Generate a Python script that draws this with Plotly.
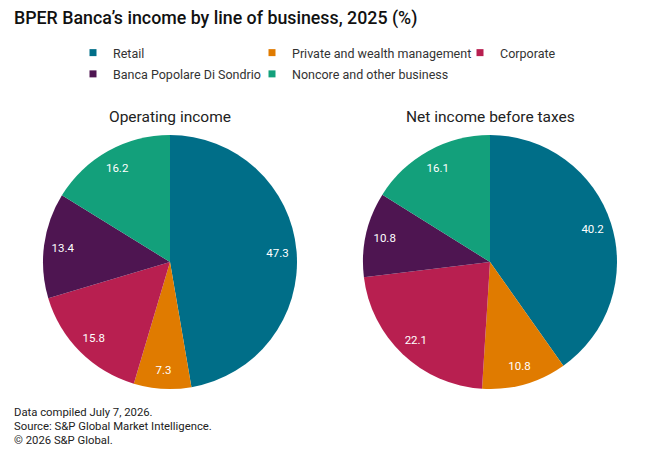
import plotly.graph_objects as go

categories = ["Retail", "Private and wealth management", "Corporate",
              "Banca Popolare Di Sondrio", "Noncore and other business"]
operating_income = [47.3, 7.3, 15.8, 13.4, 16.2]
net_income_before_taxes = [40.2, 10.8, 22.1, 10.8, 16.1]
colors = ["#006e88", "#e07b00", "#b81f50", "#4e1551", "#13a07b"]

title = "BPER Banca\u2019s income by line of business, 2025 (%)"
subtitles = ["Operating income", "Net income before taxes"]
footnotes = ["Data compiled July 7, 2026.",
             "Source: S&P Global Market Intelligence.",
             "\u00a9 2026 S&P Global."]

FONT = "Roboto"
W, H = 660, 458

# pie geometry (pixels)
R = 127
centers = [(170, 262), (490, 262)]


def dom(cx, cy):
    return dict(x=[(cx - R) / W, (cx + R) / W],
                y=[(H - cy - R) / H, (H - cy + R) / H])


fig = go.Figure()

for vals, (cx, cy) in zip([operating_income, net_income_before_taxes], centers):
    d = dom(cx, cy)
    fig.add_trace(go.Pie(
        labels=categories, values=vals, domain=d, sort=False,
        direction="clockwise", rotation=0, textinfo="none",
        marker=dict(colors=colors, line=dict(width=0)),
        showlegend=False, hoverinfo="label+value"))
    # label ring overlay (transparent) to place values near the rim
    fig.add_trace(go.Pie(
        labels=categories, values=vals, domain=d, sort=False,
        direction="clockwise", rotation=0, hole=0.7,
        text=[f"{v:.1f}" for v in vals], textinfo="text",
        textposition="inside", insidetextorientation="horizontal",
        textfont=dict(family=FONT, size=11.5, color="white"),
        marker=dict(colors=["rgba(0,0,0,0)"] * len(vals), line=dict(width=0)),
        showlegend=False, hoverinfo="skip"))

# legend entries (columns)
legend_of = ["legend", "legend2", "legend3", "legend", "legend2"]
for name, col, lg in zip(categories, colors, legend_of):
    fig.add_trace(go.Scatter(
        x=[None], y=[None], mode="markers", name=name, legend=lg,
        legendgroup=name,
        marker=dict(symbol="square", size=7, color=col),
        hoverinfo="skip"))

leg_common = dict(orientation="v", xanchor="left", yanchor="top",
                  font=dict(family=FONT, size=12.5, color="#333333"),
                  bgcolor="rgba(0,0,0,0)", traceorder="grouped",
                  tracegroupgap=2, itemwidth=30)
leg_y = (H - 38) / H

annotations = [
    dict(text=title, x=12 / W, y=(H - 18) / H, xref="paper", yref="paper",
         xanchor="left", yanchor="middle", showarrow=False,
         font=dict(family=FONT, size=17.8, color="#111111", weight=500)),
]
for txt, (cx, _) in zip(subtitles, centers):
    annotations.append(dict(
        text=txt, x=cx / W, y=(H - 117) / H, xref="paper", yref="paper",
        xanchor="center", yanchor="middle", showarrow=False,
        font=dict(family=FONT, size=15.5, color="#222222")))
for i, txt in enumerate(footnotes):
    annotations.append(dict(
        text=txt, x=12 / W, y=(H - (412.5 + 14 * i)) / H, xref="paper",
        yref="paper", xanchor="left", yanchor="middle", align="left",
        showarrow=False, font=dict(family=FONT, size=11.3, color="#222222")))

fig.update_layout(
    width=W, height=H,
    margin=dict(l=0, r=0, t=0, b=0),
    paper_bgcolor="white", plot_bgcolor="white",
    xaxis=dict(visible=False), yaxis=dict(visible=False),
    legend=dict(x=73 / W, y=leg_y, **leg_common),
    legend2=dict(x=252 / W, y=leg_y, **leg_common),
    legend3=dict(x=460 / W, y=leg_y, **leg_common),
    annotations=annotations,
)

fig.write_html("out.html")
